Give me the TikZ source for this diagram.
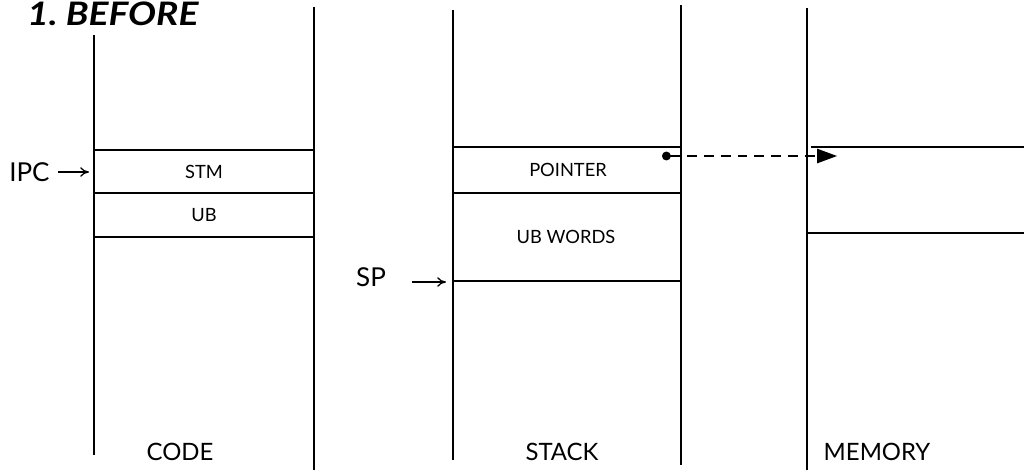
\documentclass[tikz,border=0pt]{standalone}
\usepackage{fontspec}
\setsansfont{Lato}
\usetikzlibrary{arrows.meta}

\begin{document}
\begin{tikzpicture}[x=0.025cm,y=-0.025cm]
\tikzset{
  wall/.style={line width=1.1pt},
  rowline/.style={line width=1.3pt},
  celltext/.style={font=\sffamily\fontsize{13}{15}\selectfont,inner sep=0pt},
  colname/.style={font=\sffamily\fontsize{17}{19}\selectfont,inner sep=0pt},
  regname/.style={font=\sffamily\fontsize{18.5}{20}\selectfont,inner sep=0pt},
  regarrow/.style={-{To[length=2.2mm,width=2.4mm]},line width=0.9pt},
  ptrarrow/.style={{Circle[length=2.2mm]}-{Triangle[length=5mm,width=3.6mm]},dashed,dash pattern=on 7pt off 5pt,line width=1.1pt}
}
\useasboundingbox (0,0) rectangle (1024,470);
% title
\node[anchor=base west,inner sep=0pt,font=\sffamily\bfseries\itshape\fontsize{23}{25}\selectfont] (title) at (27,25) {\scalebox{1.15}[1]{1.\ BEFORE}};
% code column
\draw[wall] (94,35) -- (94,455);
\draw[wall] (314,7) -- (314,470);
\draw[rowline] (94,150) -- (314,150);
\draw[rowline] (94,193) -- (314,193);
\draw[rowline] (94,237) -- (314,237);
\node[celltext] (stm) at (204,172) {STM};
\node[celltext] (ub) at (204,215) {UB};
\node[colname] (code) at (180,452) {CODE};
% stack column
\draw[wall] (453,10) -- (453,460);
\draw[wall] (681,5) -- (681,465);
\draw[rowline] (453,147) -- (681,147);
\draw[rowline] (453,193) -- (681,193);
\draw[rowline] (453,281) -- (681,281);
\node[celltext] (pointer) at (568,170) {POINTER};
\node[celltext] (ubwords) at (566,237) {UB WORDS};
\node[colname] (stack) at (562,452) {STACK};
% memory column
\draw[wall] (807,8) -- (807,470);
\draw[rowline] (811,147) -- (1024,147);
\draw[rowline] (807,233) -- (1024,233);
\node[colname] (memory) at (877,452) {MEMORY};
% registers
\coordinate (ipcend) at (89,172);
\coordinate (spstart) at (412,282);
\coordinate (spend) at (446,282);
\coordinate (ptrstart) at (662,156);
\coordinate (ptrend) at (837,156);
\node[regname,anchor=west] (ipc) at (9,172) {IPC};
\node[regname] (sp) at (371,277) {SP};
\draw[regarrow] (ipc.east) ++(6pt,0) -- (ipcend);
\draw[regarrow] (spstart) -- (spend);
\draw[ptrarrow] (ptrstart) -- (ptrend);
\end{tikzpicture}
\end{document}
